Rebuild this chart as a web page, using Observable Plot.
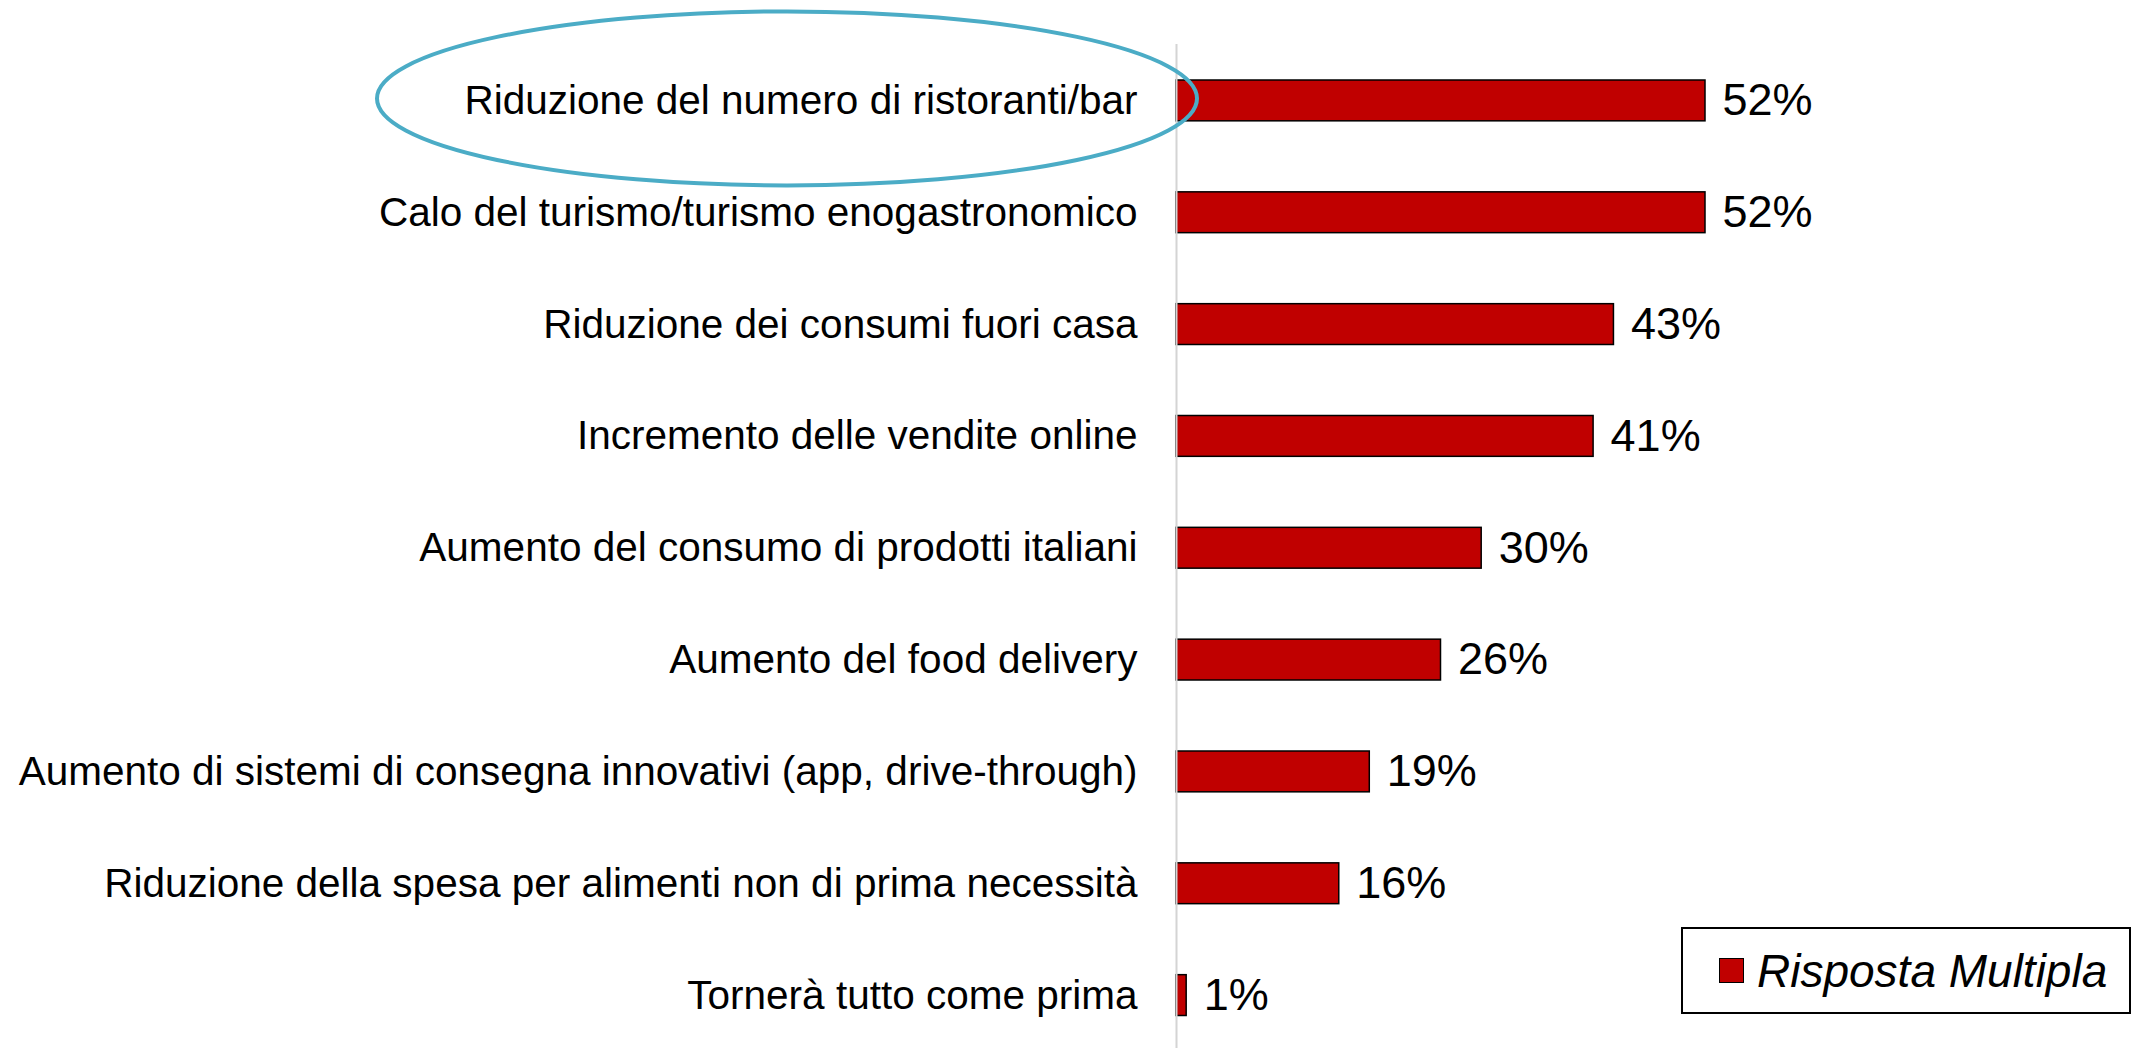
<!DOCTYPE html>
<html><head><meta charset="utf-8">
<script src="https://cdn.jsdelivr.net/npm/d3@7"></script>
<script src="https://cdn.jsdelivr.net/npm/@observablehq/plot@0.6"></script>
<style>
html,body{margin:0;padding:0;background:#fff;}
#wrap{position:relative;width:2146px;height:1048px;overflow:hidden;}
#legend{position:absolute;left:1681px;top:927px;width:450px;height:87px;border:2px solid #000;box-sizing:border-box;background:#fff;
  display:flex;align-items:center;font-family:"Liberation Sans",Arial,sans-serif;font-style:italic;font-size:46px;color:#000;}
#legend .sw{display:inline-block;width:25px;height:25px;background:#C00000;border:1.5px solid #000;margin-left:36px;margin-right:13px;box-sizing:border-box;}
</style>
</head><body>
<div id="wrap"></div>
<script>
const categories = [
  "Riduzione del numero di ristoranti/bar",
  "Calo del turismo/turismo enogastronomico",
  "Riduzione dei consumi fuori casa",
  "Incremento delle vendite online",
  "Aumento del consumo di prodotti italiani",
  "Aumento del food delivery",
  "Aumento di sistemi di consegna innovativi (app, drive-through)",
  "Riduzione della spesa per alimenti non di prima necessità",
  "Tornerà tutto come prima"
];
const values = [52, 52, 43, 41, 30, 26, 19, 16, 1];
const seriesName = "Risposta Multipla";
const highlighted = categories[0];

const data = categories.map((c, i) => ({category: c, value: values[i]}));
const font = '"Liberation Sans", Arial, sans-serif';

const chart = Plot.plot({
  width: 2146,
  height: 1048,
  marginLeft: 1176,
  marginRight: 441,
  marginTop: 44,
  marginBottom: 0,
  style: {fontFamily: font, background: "#fff", overflow: "visible"},
  x: {domain: [0, 52], axis: null},
  y: {domain: categories, range: [44.5, 1051], round: false, paddingInner: 0.635, paddingOuter: 0.3175, label: null},
  marks: [
    Plot.axisY({tickSize: 0, tickPadding: 39, fontSize: 40.5, fill: "#000", label: null}),
    Plot.barX(data, {x: "value", y: "category", fill: "#C00000", stroke: "#000", strokeWidth: 1.5}),
    Plot.ruleX([0], {stroke: "#d4d4d4", strokeWidth: 2}),
    Plot.text(data, {x: "value", y: "category", text: d => d.value + "%", textAnchor: "start", dx: 17, fontSize: 45, fill: "#000"})
  ]
});

// highlight ellipse around the first category label
const xs = chart.scale("x"), ys = chart.scale("y");
const cy = ys.apply(highlighted) + ys.bandwidth / 2;
const cx = xs.apply(0) - 389;
d3.select(chart).append("ellipse")
  .attr("cx", cx).attr("cy", cy - 2)
  .attr("rx", 410).attr("ry", 87)
  .attr("fill", "none").attr("stroke", "#4BACC6").attr("stroke-width", 4);

document.getElementById("wrap").appendChild(chart);
const lg = document.createElement("div");
lg.id = "legend";
lg.innerHTML = '<span class="sw"></span><span></span>';
lg.lastChild.textContent = seriesName;
document.getElementById("wrap").appendChild(lg);
</script>
</body></html>
